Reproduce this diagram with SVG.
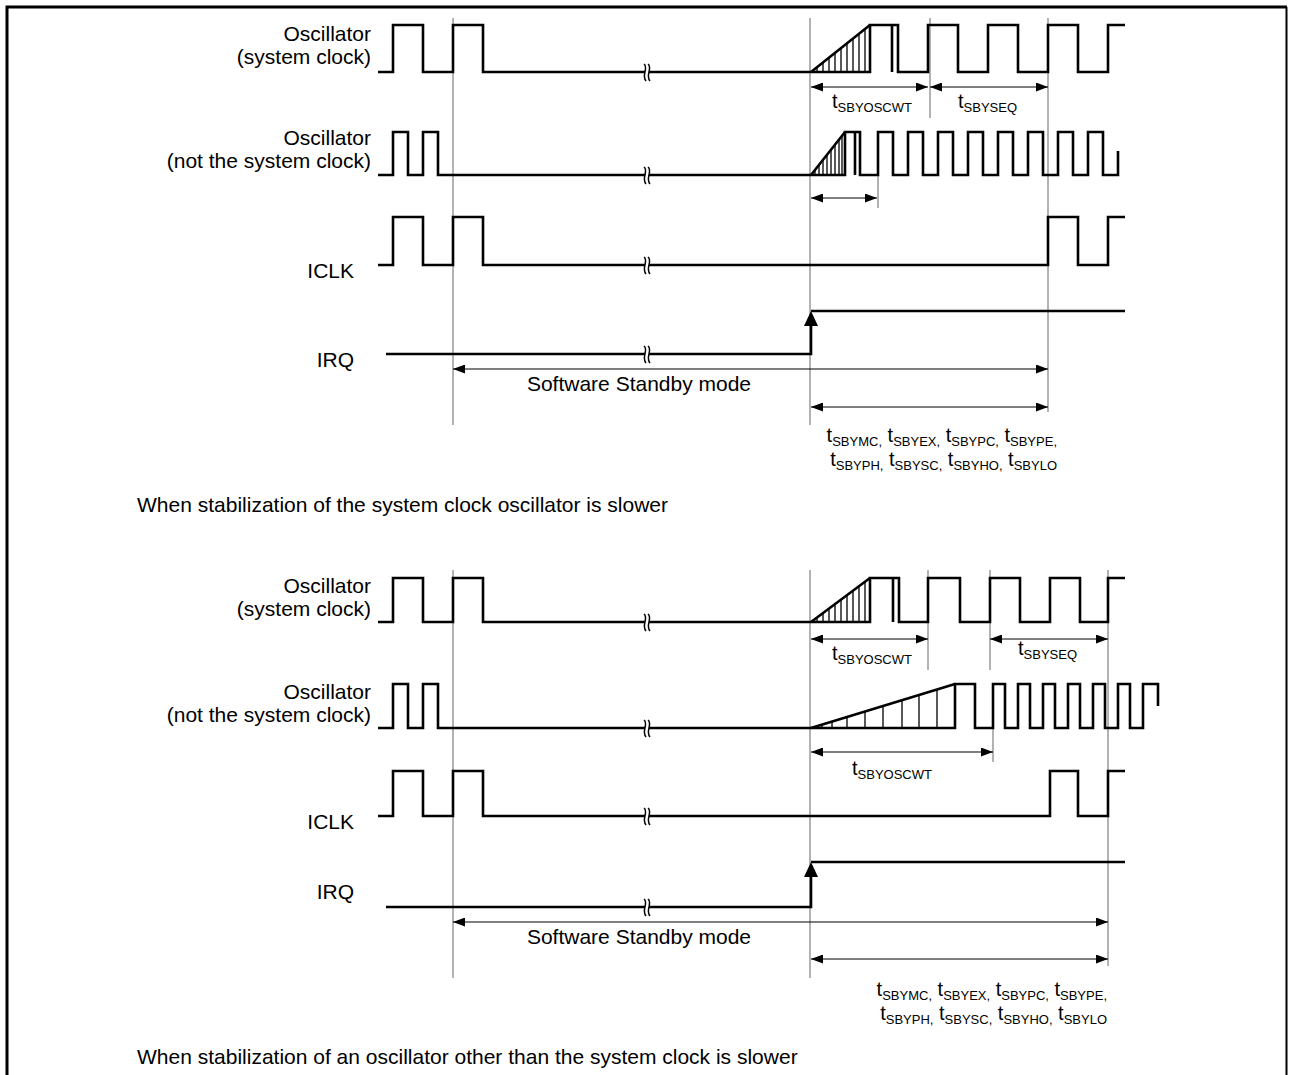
<svg xmlns="http://www.w3.org/2000/svg" width="1290" height="1075" viewBox="0 0 1290 1075">
<style>
.w{fill:none;stroke:#000;stroke-width:2.6;stroke-linejoin:miter}
.h{fill:none;stroke:#000;stroke-width:1.3}
.g{fill:none;stroke:#666;stroke-width:1}
.a{fill:none;stroke:#000;stroke-width:1.2;marker-start:url(#ah);marker-end:url(#ah)}
.t{font-family:"Liberation Sans",Arial,sans-serif;font-size:21px;fill:#000}
.tl{font-family:"Liberation Sans",Arial,sans-serif;font-size:20px;fill:#000}
.s{font-size:13px}
.brk{fill:#fff;stroke:none}
.bk{fill:none;stroke:#000;stroke-width:1.5}
</style>
<defs>
<marker id="ah" viewBox="0 0 12 9" refX="12" refY="4.5" markerWidth="12" markerHeight="9" markerUnits="userSpaceOnUse" orient="auto-start-reverse"><path d="M0,0 L12,4.5 L0,9 Z" fill="#000"/></marker>
<g id="brkmark"><path class="brk" d="M-3,-8 C2,-4 -6,3 -1,9 L3,9 C-2,3 6,-4 1,-8 Z"/><path class="bk" d="M-3,-8 C2,-4 -6,3 -1,9 M1,-8 C6,-4 -2,3 3,9"/></g>
</defs>
<rect width="1290" height="1075" fill="#fff"/>
<g id="frame">
<path d="M7,1075 V7 H1287" fill="none" stroke="#000" stroke-width="3"/>
<path d="M1286.5,7 V1075" fill="none" stroke="#000" stroke-width="2"/>
</g>

<!-- ===== TOP DIAGRAM ===== -->
<g id="guides-top">
<path class="g" d="M453,18 V425 M810,18 V425 M930,18 V118 M878,175 V208 M1048,18 V412"/>
</g>
<g id="top-osc-sys">
<text class="t" x="371" y="41" text-anchor="end">Oscillator</text>
<text class="t" x="371" y="64" text-anchor="end">(system clock)</text>
<path class="w" d="M378,72 H393 V25 H423 V72 H453 V25 H483 V72 H870 V25 H898 V72 H928 V25 H958 V72 H988 V25 H1018 V72 H1048 V25 H1078 V72 H1108 V25 H1125"/>
<path class="w" d="M811,72 L870,25 M892,25 V72"/>
<path class="h" d="M817,72 V67.2 M823,72 V62.4 M829,72 V57.7 M835,72 V52.9 M841,72 V48.1 M847,72 V43.3 M853,72 V38.5 M859,72 V33.8 M865,72 V29"/>
<use href="#brkmark" x="647" y="72"/>
</g>
<g id="top-osc-other">
<text class="t" x="371" y="145" text-anchor="end">Oscillator</text>
<text class="t" x="371" y="168" text-anchor="end">(not the system clock)</text>
<path class="w" d="M378,175 H393 V132 H408 V175 H423 V132 H438 V175 H845 V132 H860 V175 H878 V132 H893 V175 H908 V132 H923 V175 H938 V132 H953 V175 H968 V132 H983 V175 H998 V132 H1013 V175 H1028 V132 H1043 V175 H1058 V132 H1073 V175 H1088 V132 H1103 V175 H1118 V151"/>
<path class="w" d="M811,175 L845,132 M855,132 V175"/>
<path class="h" d="M815,175 V170 M819,175 V165 M823,175 V159.8 M827,175 V154.8 M831,175 V149.7 M835,175 V144.6 M839,175 V139.6 M842,175 V135.8"/>
<use href="#brkmark" x="647" y="175"/>
</g>
<g id="top-iclk">
<text class="t" x="354" y="278" text-anchor="end">ICLK</text>
<path class="w" d="M378,265 H393 V217 H423 V265 H453 V217 H483 V265 H1048 V217 H1078 V265 H1108 V217 H1125"/>
<use href="#brkmark" x="647" y="265"/>
</g>
<g id="top-irq">
<text class="t" x="354" y="367" text-anchor="end">IRQ</text>
<path class="w" d="M386,354 H811 V322 M811,311 H1125"/>
<path d="M811,311 L818,326 L804,326 Z" fill="#000"/>
<use href="#brkmark" x="647" y="354"/>
</g>
<g id="connectors-top">
<path class="a" d="M811,87 H928"/>
<path class="a" d="M930,87 H1048"/>
<path class="a" d="M811,198 H877"/>
<path class="a" d="M453,369 H1048"/>
<path class="a" d="M811,407 H1048"/>
</g>
<g id="labels-top">
<text class="tl" x="832" y="108">t<tspan class="s" dy="4">SBYOSCWT</tspan></text>
<text class="tl" x="958" y="108">t<tspan class="s" dy="4">SBYSEQ</tspan></text>
<text class="t" x="639" y="391" text-anchor="middle">Software Standby mode</text>
<text class="tl" x="1057" y="442" text-anchor="end">t<tspan class="s" dy="4">SBYMC,</tspan><tspan dy="-4"> t</tspan><tspan class="s" dy="4">SBYEX,</tspan><tspan dy="-4"> t</tspan><tspan class="s" dy="4">SBYPC,</tspan><tspan dy="-4"> t</tspan><tspan class="s" dy="4">SBYPE,</tspan></text>
<text class="tl" x="1057" y="466" text-anchor="end">t<tspan class="s" dy="4">SBYPH,</tspan><tspan dy="-4"> t</tspan><tspan class="s" dy="4">SBYSC,</tspan><tspan dy="-4"> t</tspan><tspan class="s" dy="4">SBYHO,</tspan><tspan dy="-4"> t</tspan><tspan class="s" dy="4">SBYLO</tspan></text>
<text class="t" x="137" y="512">When stabilization of the system clock oscillator is slower</text>
</g>

<!-- ===== BOTTOM DIAGRAM ===== -->
<g id="guides-bottom">
<path class="g" d="M453,570 V978 M810,570 V978 M928,570 V670 M990,570 V670 M993,684 V762 M1108,570 V966"/>
</g>
<g id="bot-osc-sys">
<text class="t" x="371" y="593" text-anchor="end">Oscillator</text>
<text class="t" x="371" y="616" text-anchor="end">(system clock)</text>
<path class="w" d="M378,622 H393 V578 H423 V622 H453 V578 H483 V622 H870 V578 H899 V622 H928 V578 H960 V622 H990 V578 H1020 V622 H1050 V578 H1080 V622 H1108 V578 H1125"/>
<path class="w" d="M811,622 L870,578 M893,578 V622"/>
<path class="h" d="M817,622 V617.5 M823,622 V613 M829,622 V608.6 M835,622 V604.1 M841,622 V599.6 M847,622 V595.2 M853,622 V590.7 M859,622 V586.2 M865,622 V581.7"/>
<use href="#brkmark" x="647" y="622"/>
</g>
<g id="bot-osc-other">
<text class="t" x="371" y="699" text-anchor="end">Oscillator</text>
<text class="t" x="371" y="722" text-anchor="end">(not the system clock)</text>
<path class="w" d="M378,728 H393 V684 H408 V728 H423 V684 H438 V728 H955 V684 H975 V728 H993 V684 H1005 V728 H1018 V684 H1030 V728 H1043 V684 H1055 V728 H1068 V684 H1080 V728 H1093 V684 H1105 V728 H1118 V684 H1130 V728 H1143 V684 H1158 V706"/>
<path class="w" d="M811,728 L955,684"/>
<path class="h" d="M822,728 V724.6 M832,728 V721.6 M847,728 V717 M865,728 V711.5 M883,728 V706 M902,728 V700.2 M919,728 V695 M937,728 V689.5"/>
<use href="#brkmark" x="647" y="728"/>
</g>
<g id="bot-iclk">
<text class="t" x="354" y="829" text-anchor="end">ICLK</text>
<path class="w" d="M378,816 H393 V771 H423 V816 H453 V771 H483 V816 H1050 V771 H1078 V816 H1108 V771 H1125"/>
<use href="#brkmark" x="647" y="816"/>
</g>
<g id="bot-irq">
<text class="t" x="354" y="899" text-anchor="end">IRQ</text>
<path class="w" d="M386,907 H811 V874 M811,862 H1125"/>
<path d="M811,862 L818,877 L804,877 Z" fill="#000"/>
<use href="#brkmark" x="647" y="907"/>
</g>
<g id="connectors-bottom">
<path class="a" d="M811,639 H928"/>
<path class="a" d="M990,639 H1108"/>
<path class="a" d="M811,752 H993"/>
<path class="a" d="M453,922 H1108"/>
<path class="a" d="M811,959 H1108"/>
</g>
<g id="labels-bottom">
<text class="tl" x="832" y="660">t<tspan class="s" dy="4">SBYOSCWT</tspan></text>
<text class="tl" x="1018" y="655">t<tspan class="s" dy="4">SBYSEQ</tspan></text>
<text class="tl" x="852" y="775">t<tspan class="s" dy="4">SBYOSCWT</tspan></text>
<text class="t" x="639" y="944" text-anchor="middle">Software Standby mode</text>
<text class="tl" x="1107" y="996" text-anchor="end">t<tspan class="s" dy="4">SBYMC,</tspan><tspan dy="-4"> t</tspan><tspan class="s" dy="4">SBYEX,</tspan><tspan dy="-4"> t</tspan><tspan class="s" dy="4">SBYPC,</tspan><tspan dy="-4"> t</tspan><tspan class="s" dy="4">SBYPE,</tspan></text>
<text class="tl" x="1107" y="1020" text-anchor="end">t<tspan class="s" dy="4">SBYPH,</tspan><tspan dy="-4"> t</tspan><tspan class="s" dy="4">SBYSC,</tspan><tspan dy="-4"> t</tspan><tspan class="s" dy="4">SBYHO,</tspan><tspan dy="-4"> t</tspan><tspan class="s" dy="4">SBYLO</tspan></text>
<text class="t" x="137" y="1064">When stabilization of an oscillator other than the system clock is slower</text>
</g>
</svg>
